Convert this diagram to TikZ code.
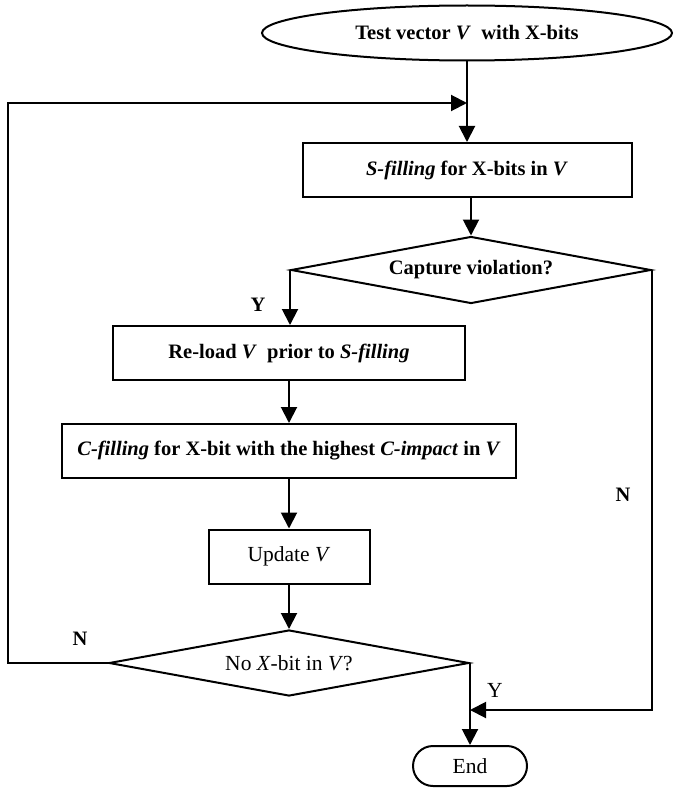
\documentclass[tikz,border=0pt]{standalone}
\usepackage{fontspec}
\setmainfont{Liberation Serif}
\usetikzlibrary{shapes.geometric,arrows.meta}
\begin{document}
\begin{tikzpicture}[x=1pt,y=-1pt,
  every node/.style={font=\fontsize{20.5}{24}\selectfont\bfseries, inner sep=0pt},
  proc/.style={draw, line width=2pt, minimum height=54pt},
  dec/.style={draw, diamond, line width=2pt, aspect=5},
  lite/.style={font=\fontsize{21.5}{24}\selectfont},
  arr/.style={line width=2pt, -{Triangle[length=16pt,width=16pt]}},
  ln/.style={line width=2pt}]
\useasboundingbox (0,0) rectangle (675,789);
\node[draw, ellipse, line width=2pt, minimum width=410pt, minimum height=55pt] (start) at (467,33) {Test vector \textit{V}\ \ with X-bits};
\node[proc, minimum width=329pt] (sfill) at (467,170) {\textit{S-filling} for X-bits in \textit{V}};
\node[dec, minimum width=360pt, minimum height=67pt] (cap) at (471,270) {Capture violation?};
\node[proc, minimum width=352pt] (reload) at (289,353) {Re-load \textit{V}\ \ prior to \textit{S-filling}};
\node[proc, minimum width=454pt] (cfill) at (289,451) {\textit{C-filling} for X-bit with the highest \textit{C-impact} in \textit{V}};
\node[proc, lite, minimum width=161pt] (upd) at (289,556.5) {Update \textit{V}};
\node[dec, lite, minimum width=360pt, minimum height=66pt] (nox) at (289,663) {No \textit{X}-bit in \textit{V}?};
\node[draw, lite, line width=2pt, rounded corners=20pt, minimum width=114pt, minimum height=40pt] (end) at (470,766) {End};
\coordinate (j1) at (467,103);
\coordinate (lc1) at (8,663);
\coordinate (lc2) at (8,103);
\coordinate (rc) at (652,710);
\coordinate (j2) at (470,710);
\draw[arr] (start.south) -- (sfill.north);
\draw[arr] (cap.north |- sfill.south) -- (cap.north);
\draw[arr] (cap.west) -- (cap.west |- reload.north);
\draw[arr] (reload.south) -- (cfill.north);
\draw[arr] (cfill.south) -- (upd.north);
\draw[arr] (upd.south) -- (nox.north);
\draw[arr] (nox.east) -- (end.north);
\draw[arr] (nox.west) -- (lc1) -- (lc2) -- (j1);
\draw[arr] (cap.east) -- (rc) -- (j2);
\node (ly1) at (258,305) {Y};
\node (ln1) at (623,495) {N};
\node (ln2) at (80,639) {N};
\node[lite] (ly2) at (495,690) {Y};
\end{tikzpicture}
\end{document}
